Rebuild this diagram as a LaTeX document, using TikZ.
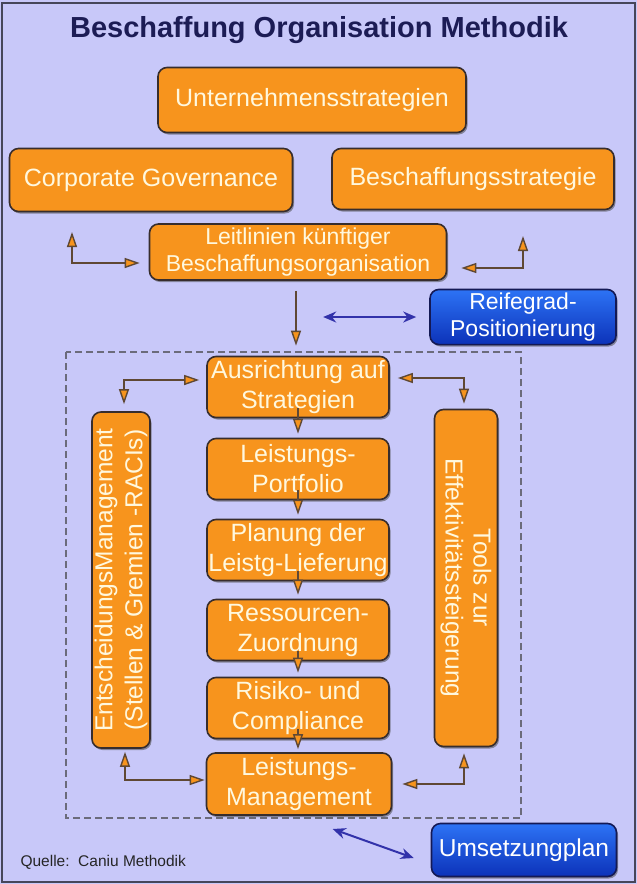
\documentclass[tikz,border=0pt]{standalone}
\usepackage{fontspec}
\setmainfont{Liberation Sans}
\usetikzlibrary{arrows.meta,shadows}
\definecolor{bgcol}{RGB}{200,200,249}
\definecolor{framecol}{RGB}{70,70,90}
\definecolor{boxfill}{RGB}{247,148,29}
\definecolor{boxtext}{RGB}{255,248,222}
\definecolor{boxline}{RGB}{55,45,45}
\definecolor{bluetop}{RGB}{45,115,245}
\definecolor{bluebot}{RGB}{12,50,185}
\definecolor{blueline}{RGB}{20,25,85}
\definecolor{linkcol}{RGB}{50,50,170}
\definecolor{flowcol}{RGB}{95,72,52}
\definecolor{titlecol}{RGB}{28,28,85}
\tikzstyle{box}=[draw=boxline,line width=1.6pt,fill=boxfill,rounded corners=9pt,
    text=boxtext,align=center,inner xsep=0pt,inner ysep=1pt,
    drop shadow={shadow xshift=1.5pt,shadow yshift=-2pt,opacity=.55,fill=black!70},
    font=\fontsize{25}{30}\selectfont]
\tikzstyle{bigbox}=[box,font=\fontsize{25}{29}\selectfont]
\tikzstyle{bluebox}=[draw=blueline,line width=1.6pt,rounded corners=9pt,
    top color=bluetop,bottom color=bluebot,text=white,align=center,inner xsep=0pt,
    drop shadow={shadow xshift=1.5pt,shadow yshift=-2pt,opacity=.55,fill=black!70},
    font=\fontsize{23}{27}\selectfont]
\tikzstyle{flow}=[draw=flowcol,line width=1.4pt,
    -{Triangle[fill=boxfill,length=15pt,width=10pt]}]
\tikzstyle{flowboth}=[flow,{Triangle[fill=boxfill,length=15pt,width=10pt]}-{Triangle[fill=boxfill,length=15pt,width=10pt]}]
\tikzstyle{link}=[draw=linkcol,line width=2pt,
    {Stealth[length=13pt,width=11pt]}-{Stealth[length=13pt,width=11pt]}]
\begin{document}
\begin{tikzpicture}[x=1pt,y=-1pt]
    % background and frame
    \fill[bgcol] (0,0) rectangle (637,884);
    \draw[framecol,line width=2pt] (2,3) rectangle (635,882);
    \draw[framecol!80,line width=1.2pt,dash pattern=on 7pt off 4pt] (66,352) rectangle (521,818);
    \node[text=titlecol,font=\bfseries\fontsize{29}{34}\selectfont] (title) at (319,30) {Beschaffung Organisation Methodik};
    % upper part
    \node[bigbox,minimum width=308pt,minimum height=65pt] (unt) at (312,100) {Unternehmensstrategien};
    \node[bigbox,minimum width=283pt,minimum height=63pt] (cg) at (151,180) {Corporate Governance};
    \node[bigbox,minimum width=282pt,minimum height=61pt] (bs) at (473,179) {Beschaffungsstrategie};
    \node[box,minimum width=297pt,minimum height=56pt,font=\fontsize{23}{27}\selectfont] (leit) at (298,252) {Leitlinien künftiger\\Beschaffungsorganisation};
    \node[bluebox,minimum width=186pt,minimum height=53pt] (reif) at (523,317) {Reifegrad-\\Positionierung};
    % center column
    \node[box,minimum width=182pt,minimum height=61pt] (aus) at (298,387) {Ausrichtung auf\\Strategien};
    \node[box,minimum width=182pt,minimum height=61pt] (lp) at (298,469) {Leistungs-\\Portfolio};
    \node[box,minimum width=182pt,minimum height=61pt] (pl) at (298,550) {Planung der\\Leistg-Lieferung};
    \node[box,minimum width=182pt,minimum height=61pt] (rz) at (298,630) {Ressourcen-\\Zuordnung};
    \node[box,minimum width=182pt,minimum height=61pt] (rc) at (298,708) {Risiko- und\\Compliance};
    \node[box,minimum width=185pt,minimum height=62pt] (lm) at (299,784) {Leistungs-\\Management};
    % side boxes
    \node[box,rotate=90,minimum width=336pt,minimum height=58pt,font=\fontsize{24.5}{30}\selectfont] (ent) at (121,580) {EntscheidungsManagement\\(Stellen \& Gremien -RACIs)};
    \node[box,rotate=-90,minimum width=337pt,minimum height=63pt,font=\fontsize{24.5}{28}\selectfont] (tools) at (466,578) {Tools zur\\Effektivitätssteigerung};
    \node[bluebox,minimum width=185pt,minimum height=53pt,font=\fontsize{24.5}{28}\selectfont] (ums) at (524,850) {Umsetzungplan};
    \node[anchor=west,text=black!85,font=\fontsize{15.5}{18}\selectfont] (src) at (17,862) {Quelle:\ \ Caniu Methodik};
    % connectors
    \coordinate (cgA) at (72,232);
    \coordinate (bsA) at (523,236);
    \draw[flowboth,shorten >=9pt] (cgA) |- ([yshift=-11pt]leit.west);
    \draw[flowboth,shorten >=14pt] (bsA) |- ([yshift=-16pt]leit.east);
    \draw[flow,shorten >=10pt] ([xshift=-2pt,yshift=-10pt]leit.south) -- ([xshift=-2pt]aus.north);
    \draw[link] ([xshift=-106pt]reif.west) -- ([xshift=-13pt]reif.west);
    \draw[flowboth,shorten <=7pt,shorten >=7pt] ([xshift=3pt]ent.east) |- ([yshift=7pt]aus.west);
    \draw[flowboth,shorten <=5pt,shorten >=8pt] ([xshift=-2pt]tools.west) |- ([yshift=9pt]aus.east);
    \draw[flow,shorten >=4pt] ([yshift=10pt]aus.south) -- (lp.north);
    \draw[flow,shorten >=4pt] ([yshift=10pt]lp.south) -- (pl.north);
    \draw[flow,shorten >=4pt] ([yshift=10pt]pl.south) -- (rz.north);
    \draw[flow,shorten >=4pt] ([yshift=10pt]rz.south) -- (rc.north);
    \draw[flow,shorten >=3pt] ([yshift=10pt]rc.south) -- ([xshift=-1pt]lm.north);
    \draw[flowboth,shorten <=3pt,shorten >=1pt] ([xshift=4pt]ent.west) |- ([yshift=4pt]lm.west);
    \draw[flowboth,shorten <=6pt,shorten >=10pt] ([xshift=-2pt]tools.east) |- (lm.east);
    \draw[link] ([xshift=-98pt,yshift=21pt]ums.west) -- ([xshift=-17pt,yshift=-8pt]ums.west);
\end{tikzpicture}
\end{document}
